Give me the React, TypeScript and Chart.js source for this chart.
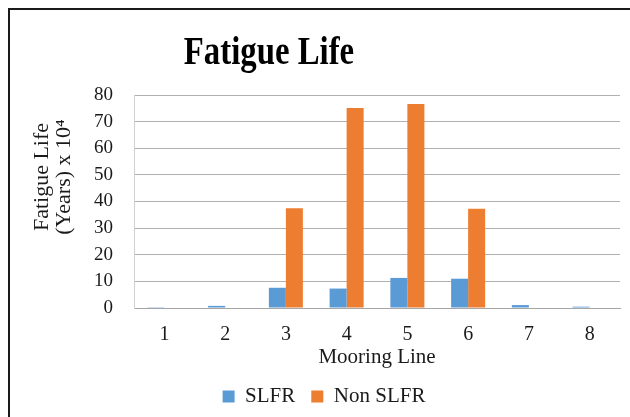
import React, { useEffect, useRef } from 'react';
import { Chart, registerables } from 'chart.js';

Chart.register(...registerables);

const categories = ['1', '2', '3', '4', '5', '6', '7', '8'];
const slfrValues = [0.3, 0.8, 7.6, 7.3, 11.3, 11.0, 1.1, 0.5];
const nonSlfrValues = [0, 0, 37.5, 75.1, 76.6, 37.3, 0, 0];
const yMin = 0;
const yMax = 80;
const yStep = 10;
const chartTitle = 'Fatigue Life';
const yTitleLines = ['Fatigue Life', '(Years) x 10\u2074'];
const xTitle = 'Mooring Line';
const seriesNames = ['SLFR', 'Non SLFR'];

const SERIF = "'Liberation Serif', 'Times New Roman', 'DejaVu Serif', serif";

const decorPlugin = {
  id: 'decor',
  afterDraw(chart: any) {
    const ctx = chart.ctx as CanvasRenderingContext2D;
    ctx.save();
    // outer frame (left + top visible)
    ctx.strokeStyle = '#1a1a1a';
    ctx.lineWidth = 2;
    ctx.beginPath();
    ctx.moveTo(9, 417);
    ctx.lineTo(9, 9);
    ctx.lineTo(630, 9);
    ctx.stroke();

    // chart title
    ctx.fillStyle = '#000';
    ctx.font = `bold 41px ${SERIF}`;
    ctx.textAlign = 'center';
    ctx.textBaseline = 'alphabetic';
    ctx.save();
    ctx.translate(269, 64);
    ctx.scale(0.8, 1);
    ctx.fillText(chartTitle, 0, 0);
    ctx.restore();

    // y axis title (two lines, rotated)
    ctx.font = `22px ${SERIF}`;
    ctx.fillStyle = '#1a1a1a';
    ctx.textBaseline = 'middle';
    const xs = [42, 64];
    yTitleLines.forEach((line, i) => {
      ctx.save();
      ctx.translate(xs[i], 177);
      ctx.rotate(-Math.PI / 2);
      ctx.fillText(line, 0, 0);
      ctx.restore();
    });
    ctx.restore();
  },
};

export default function App() {
  const canvasRef = useRef<HTMLCanvasElement | null>(null);

  useEffect(() => {
    if (!canvasRef.current) return;
    const chart = new Chart(canvasRef.current, {
      type: 'bar',
      data: {
        labels: categories,
        datasets: [
          {
            label: seriesNames[0],
            data: slfrValues,
            backgroundColor: '#5B9BD5',
            borderWidth: 0,
          },
          {
            label: seriesNames[1],
            data: nonSlfrValues,
            backgroundColor: '#ED7D31',
            borderWidth: 0,
          },
        ],
      },
      options: {
        animation: false,
        responsive: false,
        devicePixelRatio: 1,
        layout: { padding: { left: 28, right: 10, top: 95, bottom: 0 } },
        datasets: {
          bar: { categoryPercentage: 0.56, barPercentage: 1 },
        },
        plugins: {
          title: { display: false },
          tooltip: { enabled: false },
          legend: {
            display: true,
            position: 'bottom',
            labels: {
              boxWidth: 12,
              boxHeight: 12,
              padding: 16,
              color: '#1a1a1a',
              font: { family: SERIF, size: 21 },
            },
          },
        },
        scales: {
          x: {
            grid: { display: false, drawTicks: false },
            border: { display: true, color: '#A6A6A6', width: 1 },
            ticks: {
              color: '#1a1a1a',
              font: { family: SERIF, size: 20 },
              padding: 15,
            },
            title: {
              display: true,
              text: xTitle,
              color: '#1a1a1a',
              font: { family: SERIF, size: 21 },
              padding: { top: 0, bottom: 0 },
            },
            afterFit: (scale: any) => {
              scale.height = 62;
            },
          },
          y: {
            min: yMin,
            max: yMax,
            grid: { color: '#B0B0B0', lineWidth: 1, drawTicks: false },
            border: { display: true, color: '#D0D0D0', width: 1 },
            ticks: {
              stepSize: yStep,
              color: '#1a1a1a',
              font: { family: SERIF, size: 19 },
              padding: 21,
            },
            afterFit: (scale: any) => {
              scale.width = 106;
            },
          },
        },
      },
      plugins: [decorPlugin],
    } as any);
    return () => chart.destroy();
  }, []);

  return (
    <div style={{ position: 'fixed', left: 0, top: 0, width: 630, height: 417, background: '#fff' }}>
      <canvas ref={canvasRef} width={630} height={417} style={{ display: 'block', width: 630, height: 417 }} />
    </div>
  );
}
